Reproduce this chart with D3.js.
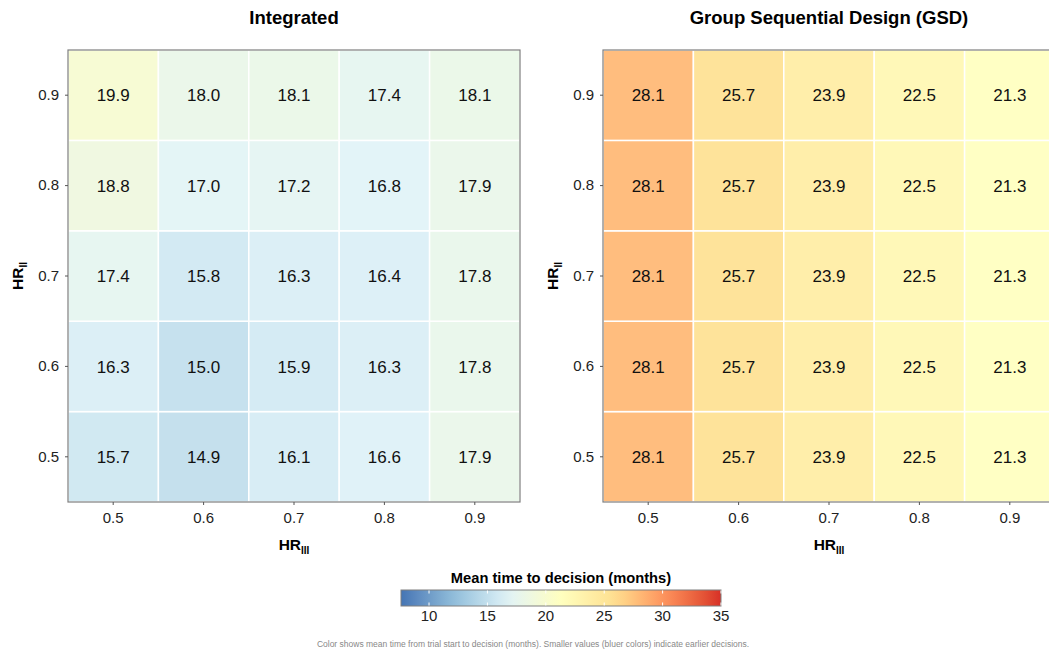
<!DOCTYPE html>
<html>
<head>
<meta charset="utf-8">
<script src="https://d3js.org/d3.v7.min.js"></script>
<style>
  body { margin: 0; background: #fff; }
  svg text { font-family: "Liberation Sans", Arial, sans-serif; }
</style>
</head>
<body>
<div id="chart"></div>
<script>
// data
const hrIII = ["0.5", "0.6", "0.7", "0.8", "0.9"];
const hrII = ["0.5", "0.6", "0.7", "0.8", "0.9"];
// rows indexed by HR_II (0.5 .. 0.9), columns by HR_III (0.5 .. 0.9)
const integratedValues = [
  [15.7, 14.9, 16.1, 16.6, 17.9],
  [16.3, 15.0, 15.9, 16.3, 17.8],
  [17.4, 15.8, 16.3, 16.4, 17.8],
  [18.8, 17.0, 17.2, 16.8, 17.9],
  [19.9, 18.0, 18.1, 17.4, 18.1]
];
const gsdValues = [
  [28.1, 25.7, 23.9, 22.5, 21.3],
  [28.1, 25.7, 23.9, 22.5, 21.3],
  [28.1, 25.7, 23.9, 22.5, 21.3],
  [28.1, 25.7, 23.9, 22.5, 21.3],
  [28.1, 25.7, 23.9, 22.5, 21.3]
];
const legendTicks = [10, 15, 20, 25, 30, 35];
const colorDomain = [7.6, 35];
const palette = ["#4575b4", "#91bfdb", "#e0f3f8", "#ffffbf", "#fee090", "#fc8d59", "#d73027"];

const W = 1049, H = 655;
const svg = d3.select("#chart").append("svg").attr("width", W).attr("height", H);

const color = d3.scaleLinear()
  .domain(d3.range(palette.length).map(i => colorDomain[0] + i * (colorDomain[1] - colorDomain[0]) / (palette.length - 1)))
  .range(palette)
  .interpolate(d3.interpolateLab);

const size = 452;
const panels = [
  {title: "Integrated", left: 68, values: integratedValues},
  {title: "Group Sequential Design (GSD)", left: 603, values: gsdValues}
];
const panelTop = 50;

panels.forEach(p => {
  const g = svg.append("g").attr("transform", `translate(${p.left},${panelTop})`);
  const x = d3.scaleBand().domain(hrIII).range([0, size]);
  const y = d3.scaleBand().domain(hrII).range([size, 0]);

  const cells = [];
  p.values.forEach((row, i) => row.forEach((v, j) => cells.push({r: hrII[i], c: hrIII[j], v})));

  g.selectAll("rect.cell").data(cells).enter().append("rect")
    .attr("class", "cell")
    .attr("x", d => x(d.c)).attr("y", d => y(d.r))
    .attr("width", x.bandwidth()).attr("height", y.bandwidth())
    .attr("fill", d => color(d.v)).attr("fill-opacity", 0.93)
    .attr("stroke", "#fff").attr("stroke-width", 1.5);

  g.selectAll("text.lab").data(cells).enter().append("text")
    .attr("x", d => x(d.c) + x.bandwidth() / 2)
    .attr("y", d => y(d.r) + y.bandwidth() / 2)
    .attr("dy", "0.36em").attr("text-anchor", "middle")
    .attr("font-size", 17).attr("fill", "#111")
    .text(d => d.v.toFixed(1));

  g.append("rect").attr("width", size).attr("height", size)
    .attr("fill", "none").attr("stroke", "#7f7f7f").attr("stroke-width", 1.2);

  const xa = g.append("g").attr("transform", `translate(0,${size})`)
    .call(d3.axisBottom(x).tickSize(3).tickPadding(7));
  const ya = g.append("g").call(d3.axisLeft(y).tickSize(3).tickPadding(6));
  [xa, ya].forEach(a => {
    a.select(".domain").remove();
    a.selectAll("line").attr("stroke", "#555");
    a.selectAll("text").attr("font-size", 15).attr("fill", "#222")
      .style("font-family", "'Liberation Sans', Arial, sans-serif");
  });

  g.append("text").attr("x", size / 2).attr("y", -26)
    .attr("text-anchor", "middle").attr("font-size", 18.5).attr("font-weight", "bold")
    .text(p.title);

  const xt = g.append("text").attr("x", size / 2).attr("y", size + 48)
    .attr("text-anchor", "middle").attr("font-size", 15.5).attr("font-weight", "bold");
  xt.append("tspan").text("HR");
  xt.append("tspan").attr("font-size", 10).attr("dy", 4).text("III");

  const yt = g.append("text")
    .attr("transform", `translate(-45,${size / 2}) rotate(-90)`)
    .attr("text-anchor", "middle").attr("font-size", 15.5).attr("font-weight", "bold");
  yt.append("tspan").text("HR");
  yt.append("tspan").attr("font-size", 10).attr("dy", 4).text("II");
});

// legend
const lx = 401, lw = 320, ly = 590, lh = 16;
const defs = svg.append("defs");
const grad = defs.append("linearGradient").attr("id", "lg");
d3.range(0, 1.0001, 0.05).forEach(t => {
  grad.append("stop").attr("offset", t)
    .attr("stop-color", color(colorDomain[0] + t * (colorDomain[1] - colorDomain[0])));
});
const lscale = d3.scaleLinear().domain(colorDomain).range([lx, lx + lw]);
svg.append("rect").attr("x", lx).attr("y", ly).attr("width", lw).attr("height", lh)
  .attr("fill", "url(#lg)").attr("stroke", "#7f7f7f").attr("stroke-width", 1);
const lt = svg.append("g");
legendTicks.forEach(v => {
  lt.append("line").attr("x1", lscale(v)).attr("x2", lscale(v))
    .attr("y1", ly + 0.5).attr("y2", ly + 3.5).attr("stroke", "#fff");
  lt.append("line").attr("x1", lscale(v)).attr("x2", lscale(v))
    .attr("y1", ly + lh - 3.5).attr("y2", ly + lh - 0.5).attr("stroke", "#fff");
  lt.append("text").attr("x", lscale(v)).attr("y", ly + lh + 15)
    .attr("text-anchor", "middle").attr("font-size", 15).attr("fill", "#222").text(v);
});
svg.append("text").attr("x", lx + lw / 2).attr("y", 583)
  .attr("text-anchor", "middle").attr("font-size", 14.7).attr("font-weight", "bold")
  .text("Mean time to decision (months)");

svg.append("text").attr("x", 533).attr("y", 647)
  .attr("text-anchor", "middle").attr("font-size", 8.5).attr("fill", "#888")
  .text("Color shows mean time from trial start to decision (months).  Smaller values (bluer colors) indicate earlier decisions.");
</script>
</body>
</html>
